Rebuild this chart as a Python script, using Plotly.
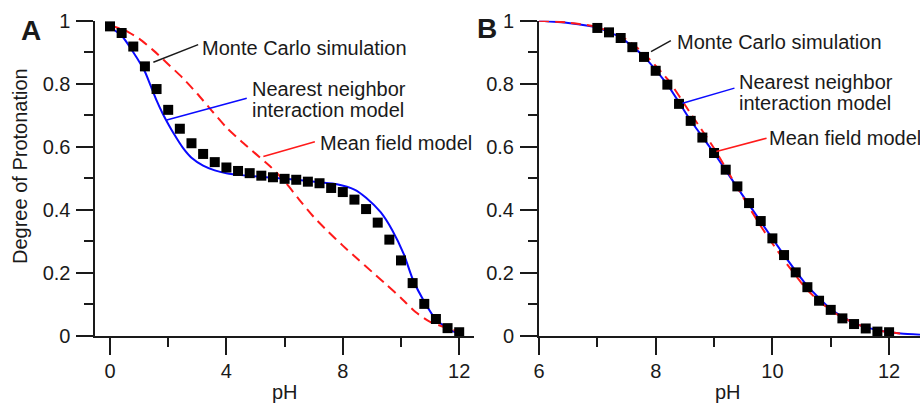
import plotly.graph_objects as go

# ---------------- Panel A data ----------------
mcA_ph = [0.0, 0.4, 0.8, 1.2, 1.6, 2.0, 2.4, 2.8, 3.2, 3.6, 4.0, 4.4, 4.8, 5.2, 5.6, 6.0,
          6.4, 6.8, 7.2, 7.6, 8.0, 8.4, 8.8, 9.2, 9.6, 10.0, 10.4, 10.8, 11.2, 11.6, 12.0]
mcA_val = [0.982, 0.961, 0.918, 0.855, 0.783, 0.717, 0.657, 0.611, 0.577, 0.551, 0.534, 0.523,
           0.516, 0.508, 0.503, 0.498, 0.495, 0.489, 0.484, 0.469, 0.456, 0.432, 0.402, 0.359,
           0.305, 0.239, 0.167, 0.101, 0.053, 0.024, 0.011]

nnA_ph = [0.0, 0.4, 0.8, 1.2, 1.4, 1.6, 1.8, 2.0, 2.2, 2.5, 2.8, 3.2, 3.6, 4.0, 4.6, 5.2, 5.8,
          6.4, 7.2, 7.8, 8.4, 8.8, 9.3, 9.7, 10.1, 10.4, 10.8, 11.2, 11.7, 12.0]
nnA_val = [0.980, 0.952, 0.900, 0.838, 0.793, 0.747, 0.707, 0.672, 0.640, 0.597, 0.565, 0.540,
           0.525, 0.516, 0.509, 0.504, 0.500, 0.495, 0.487, 0.481, 0.464, 0.438, 0.392, 0.335,
           0.258, 0.180, 0.108, 0.052, 0.017, 0.008]

mfA_ph = [0.0, 0.5, 1.0, 1.5, 2.0, 2.5, 3.0, 3.5, 4.0, 4.5, 5.0, 5.5, 6.0, 6.5, 7.0, 7.5, 8.0,
          8.5, 9.0, 9.5, 10.0, 10.5, 11.0, 11.5, 12.0]
mfA_val = [0.985, 0.970, 0.943, 0.905, 0.862, 0.818, 0.768, 0.714, 0.661, 0.618, 0.578, 0.538,
           0.490, 0.432, 0.377, 0.330, 0.286, 0.244, 0.203, 0.162, 0.120, 0.075, 0.044, 0.027, 0.012]

# ---------------- Panel B data ----------------
mcB_ph = [7.0, 7.2, 7.4, 7.6, 7.8, 8.0, 8.2, 8.4, 8.6, 8.8, 9.0, 9.2, 9.4, 9.6, 9.8, 10.0,
          10.2, 10.4, 10.6, 10.8, 11.0, 11.2, 11.4, 11.6, 11.8, 12.0]
mcB_val = [0.977, 0.963, 0.945, 0.916, 0.885, 0.841, 0.797, 0.736, 0.682, 0.629, 0.580, 0.527,
           0.474, 0.421, 0.364, 0.309, 0.256, 0.201, 0.154, 0.111, 0.082, 0.055, 0.037, 0.023,
           0.013, 0.011]

nnB_ph = [6.0, 6.5, 7.0, 7.4, 7.8, 8.2, 8.6, 9.0, 9.4, 9.8, 10.2, 10.6, 11.0, 11.4, 11.8, 12.2, 12.53]
nnB_val = [1.000, 0.993, 0.978, 0.946, 0.886, 0.797, 0.683, 0.580, 0.470, 0.362, 0.256, 0.158,
           0.085, 0.040, 0.018, 0.007, 0.003]

mfB_ph = [6.0, 6.5, 7.0, 7.5, 7.8, 8.2, 8.6, 9.0, 9.4, 9.8, 10.2, 10.6, 11.0, 11.4, 11.8, 12.2]
mfB_val = [1.000, 0.994, 0.980, 0.940, 0.895, 0.815, 0.705, 0.595, 0.470, 0.348, 0.240, 0.145,
           0.080, 0.040, 0.017, 0.007]

y_ticks = [0, 0.2, 0.4, 0.6, 0.8, 1.0]
y_ticktext = ["0", "0.2", "0.4", "0.6", "0.8", "1"]
y_minor = [0.1, 0.3, 0.5, 0.7, 0.9]
xA_ticks = [0, 4, 8, 12]
xA_minor = [2, 6, 10]
xB_ticks = [6, 8, 10, 12]
xB_minor = [7, 9, 11]

FONT = "Liberation Sans, Arial, sans-serif"
TXT = "#1a1a1a"
BLUE = "#0a0aff"
RED = "#ff1a1a"
FS = 20

fig = go.Figure()

for (xa, ya, nph, nval, mph, mval, cph, cval) in [
    ("x", "y", nnA_ph, nnA_val, mfA_ph, mfA_val, mcA_ph, mcA_val),
    ("x2", "y2", nnB_ph, nnB_val, mfB_ph, mfB_val, mcB_ph, mcB_val),
]:
    fig.add_trace(go.Scatter(x=nph, y=nval, mode="lines", xaxis=xa, yaxis=ya,
                             line=dict(color=BLUE, width=2, shape="spline", smoothing=0.6),
                             cliponaxis=False, showlegend=False, hoverinfo="skip"))
    fig.add_trace(go.Scatter(x=mph, y=mval, mode="lines", xaxis=xa, yaxis=ya,
                             line=dict(color=RED, width=2, dash="10px,6px", shape="spline", smoothing=0.6),
                             cliponaxis=False, showlegend=False, hoverinfo="skip"))
    fig.add_trace(go.Scatter(x=cph, y=cval, mode="markers", xaxis=xa, yaxis=ya,
                             marker=dict(symbol="square", size=10, color="black"),
                             cliponaxis=False, showlegend=False, hoverinfo="skip"))

axis_common = dict(showgrid=False, zeroline=False, showline=True, linewidth=2, linecolor=TXT,
                   ticks="outside", ticklen=17, tickwidth=2, tickcolor=TXT, automargin=False,
                   tickfont=dict(family=FONT, size=FS, color=TXT))
minor_common = dict(ticks="outside", ticklen=9, tickwidth=2, tickcolor=TXT, showgrid=False)

YDOM = [1 - 335.7 / 406, 1 - 20.7 / 406]

fig.update_layout(
    width=920, height=406,
    margin=dict(l=0, r=0, t=0, b=0, autoexpand=False),
    paper_bgcolor="white", plot_bgcolor="white",
    font=dict(family=FONT, size=FS, color=TXT),
    xaxis=dict(domain=[95.45 / 920, 473.75 / 920], range=[-0.5, 12.5], anchor="y",
               tickvals=xA_ticks, ticklabelstandoff=-1,
               minor=dict(tickvals=xA_minor, **minor_common), **axis_common),
    yaxis=dict(domain=YDOM, range=[0, 1], anchor="x",
               tickvals=y_ticks, ticktext=y_ticktext, ticklabelstandoff=2,
               minor=dict(tickvals=y_minor, **minor_common), **axis_common),
    xaxis2=dict(domain=[539 / 920, 1.0], range=[6, 12.53], anchor="y2",
                tickvals=xB_ticks, ticklabelstandoff=-1,
                minor=dict(tickvals=xB_minor, **minor_common), **axis_common),
    yaxis2=dict(domain=YDOM, range=[0, 1], anchor="x2",
                tickvals=y_ticks, ticktext=y_ticktext, ticklabelstandoff=2,
                minor=dict(tickvals=y_minor, **minor_common), **axis_common),
)

# Leader lines (annotation pointers)
leaders = [
    ("x", "y", 1.49, 0.868, 3.03, 0.924, TXT),
    ("x", "y", 1.95, 0.685, 4.70, 0.754, BLUE),
    ("x", "y", 5.27, 0.569, 7.04, 0.616, RED),
    ("x2", "y2", 7.92, 0.902, 8.26, 0.937, TXT),
    ("x2", "y2", 8.46, 0.738, 9.35, 0.786, BLUE),
    ("x2", "y2", 9.04, 0.585, 9.90, 0.627, RED),
]
for xr, yr, x0, y0, x1, y1, c in leaders:
    fig.add_shape(type="line", xref=xr, yref=yr, x0=x0, y0=y0, x1=x1, y1=y1,
                  line=dict(color=c, width=1.5))

labels = [
    ("x", "y", 3.10, 0.914, "Monte Carlo simulation"),
    ("x", "y", 4.80, 0.783, "Nearest neighbor"),
    ("x", "y", 4.80, 0.717, "interaction model"),
    ("x", "y", 7.15, 0.611, "Mean field model"),
    ("x2", "y2", 8.33, 0.933, "Monte Carlo simulation"),
    ("x2", "y2", 9.39, 0.806, "Nearest neighbor"),
    ("x2", "y2", 9.39, 0.739, "interaction model"),
    ("x2", "y2", 9.91, 0.629, "Mean field model"),
]
for xr, yr, x, y, t in labels:
    fig.add_annotation(xref=xr, yref=yr, x=x, y=y, text=t, showarrow=False,
                       xanchor="left", yanchor="middle",
                       font=dict(family=FONT, size=FS, color=TXT))

# Axis titles and panel letters
fig.add_annotation(xref="paper", yref="paper", x=20 / 920, y=1 - 166 / 406, text="Degree of Protonation",
                   textangle=-90, showarrow=False, xanchor="center", yanchor="middle",
                   font=dict(family=FONT, size=FS, color=TXT))
fig.add_annotation(xref="paper", yref="paper", x=284.5 / 920, y=1 - 392 / 406, text="pH",
                   showarrow=False, xanchor="center", yanchor="middle",
                   font=dict(family=FONT, size=FS, color=TXT))
fig.add_annotation(xref="paper", yref="paper", x=728 / 920, y=1 - 392 / 406, text="pH",
                   showarrow=False, xanchor="center", yanchor="middle",
                   font=dict(family=FONT, size=FS, color=TXT))
fig.add_annotation(xref="paper", yref="paper", x=31 / 920, y=1 - 30 / 406, text="<b>A</b>",
                   showarrow=False, xanchor="center", yanchor="middle",
                   font=dict(family=FONT, size=28, color=TXT))
fig.add_annotation(xref="paper", yref="paper", x=487 / 920, y=1 - 29 / 406, text="<b>B</b>",
                   showarrow=False, xanchor="center", yanchor="middle",
                   font=dict(family=FONT, size=28, color=TXT))

fig.write_html("out.html")
